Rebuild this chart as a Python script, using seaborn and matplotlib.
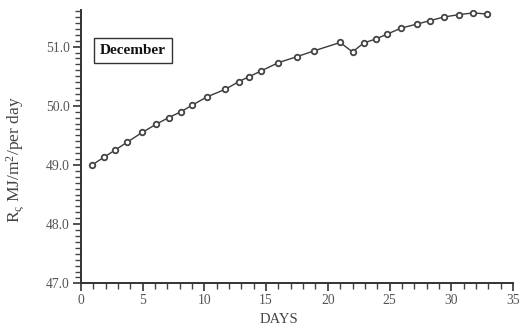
import matplotlib
matplotlib.use("Agg")
import matplotlib.pyplot as plt
from matplotlib.ticker import MultipleLocator
import seaborn as sns
import pandas as pd

# Daily global solar radiation, December
days = [0.9, 1.85, 2.75, 3.7, 4.96, 6.1, 7.1, 8.1, 9.0, 10.2,
        11.7, 12.8, 13.6, 14.6, 16.0, 17.5, 18.9, 21.0, 22.0, 22.9,
        23.9, 24.8, 25.9, 27.2, 28.3, 29.4, 30.6, 31.8, 32.9]
rs = [49.00, 49.13, 49.25, 49.38, 49.55, 49.69, 49.80, 49.90, 50.01, 50.15,
      50.28, 50.41, 50.49, 50.59, 50.73, 50.83, 50.93, 51.07, 50.91, 51.06,
      51.13, 51.21, 51.31, 51.38, 51.44, 51.50, 51.54, 51.57, 51.55]
x_ticks = [0, 5, 10, 15, 20, 25, 30, 35]
y_ticks = [47.0, 48.0, 49.0, 50.0, 51.0]
month = "December"

sns.set_style("ticks")
plt.rcParams["font.family"] = ["Liberation Serif", "DejaVu Serif"]
plt.rcParams["mathtext.fontset"] = "custom"
plt.rcParams["mathtext.rm"] = "Liberation Serif"
plt.rcParams["mathtext.it"] = "Liberation Serif"

df = pd.DataFrame({"DAYS": days, "Rs": rs})

fig = plt.figure(figsize=(5.21, 3.31), dpi=100)
ax = fig.add_axes([0.1555, 0.144, 0.829, 0.826])

sns.lineplot(data=df, x="DAYS", y="Rs", ax=ax, color="#3a3a3a", linewidth=1.0,
             marker="o", markersize=4.0, markerfacecolor="white",
             markeredgecolor="#444444", markeredgewidth=1.3)

ax.set_xlim(0, 35)
ax.set_ylim(47.0, 51.62)
ax.set_xticks(x_ticks)
ax.set_yticks(y_ticks)
ax.set_yticklabels([f"{v:.1f}" for v in y_ticks])
ax.xaxis.set_minor_locator(MultipleLocator(1))
ax.yaxis.set_minor_locator(MultipleLocator(0.1))

ax.tick_params(axis="both", which="major", length=6, width=1.2, color="#333333",
               labelsize=9.8, labelcolor="#555555", pad=2)
ax.tick_params(axis="both", which="minor", length=4, width=1.0, color="#444444")

for side in ("left", "bottom"):
    ax.spines[side].set_color("#333333")
    ax.spines[side].set_linewidth(1.4)
sns.despine(ax=ax)

ax.set_xlabel("DAYS", fontsize=10.5, color="#444444")
ax.xaxis.set_label_coords(0.459, -0.109)
ax.set_ylabel(r"R$_{\varsigma}$ MJ/m$^2$/per day", fontsize=12.5, color="#444444")
ax.yaxis.set_label_coords(-0.128, 0.451)

ax.text(4.2, 50.93, month, fontsize=11, fontweight="bold", color="#111111",
        ha="center", va="center",
        bbox=dict(boxstyle="square,pad=0.4", facecolor="white",
                  edgecolor="#333333", linewidth=1.0))

fig.savefig("out.png", dpi=100)
